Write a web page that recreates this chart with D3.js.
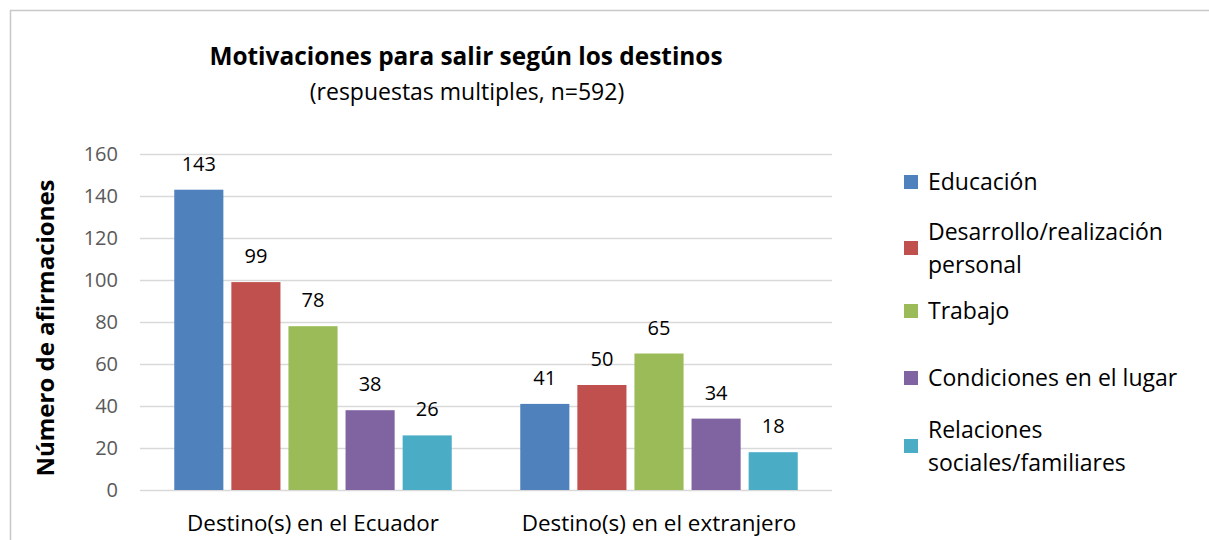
<!DOCTYPE html>
<html>
<head>
<meta charset="utf-8">
<script src="https://cdn.jsdelivr.net/npm/d3@7"></script>
<style>
  body { margin: 0; background: #fff; }
  svg { display: block; }
</style>
</head>
<body>
<div id="chart"></div>
<script>
/* Data */
const categories = ["Destino(s) en el Ecuador", "Destino(s) en el extranjero"];
const series = ["Educación", "Desarrollo/realización personal", "Trabajo", "Condiciones en el lugar", "Relaciones sociales/familiares"];
const legendLines = [["Educación"], ["Desarrollo/realización", "personal"], ["Trabajo"], ["Condiciones en el lugar"], ["Relaciones", "sociales/familiares"]];
const valuesEcuador = [143, 99, 78, 38, 26];
const valuesExtranjero = [41, 50, 65, 34, 18];
const yTicks = [0, 20, 40, 60, 80, 100, 120, 140, 160];
const colors = ["#4F81BD", "#C0504D", "#9BBB59", "#8064A2", "#4BACC6"];

const data = categories.map((c, i) => ({
    category: c,
    values: (i === 0 ? valuesEcuador : valuesExtranjero).map((v, j) => ({ key: series[j], value: v, idx: j }))
}));

const W = 1209, H = 540;
const plot = { left: 140, right: 832, top: 154, bottom: 490 };

const svg = d3.select("#chart").append("svg")
    .attr("width", W)
    .attr("height", H);

/* Outer frame (only top and left edges visible) */
svg.append("line").attr("x1", 10).attr("x2", W).attr("y1", 10.5).attr("y2", 10.5)
    .attr("stroke", "#c8c8c8").attr("stroke-width", 1.5);
svg.append("line").attr("x1", 10.5).attr("x2", 10.5).attr("y1", 10).attr("y2", H)
    .attr("stroke", "#c8c8c8").attr("stroke-width", 1.5);

/* Scales */
const x0 = d3.scaleBand().domain(categories).range([plot.left, plot.right]).padding(0);
const x1 = d3.scaleBand().domain(series).range([0, x0.bandwidth()])
    .paddingInner(0.14).paddingOuter(0.6);
const y = d3.scaleLinear().domain([0, 160]).range([plot.bottom, plot.top]);

/* Gridlines */
svg.append("g")
    .selectAll("line")
    .data(yTicks)
    .join("line")
        .attr("x1", plot.left).attr("x2", plot.right)
        .attr("y1", d => y(d) + 0.5).attr("y2", d => y(d) + 0.5)
        .attr("stroke", "#d9d9d9").attr("stroke-width", 1.5);

/* Y axis tick labels */
const yAxis = svg.append("g")
    .attr("transform", "translate(118,0)")
    .call(d3.axisLeft(y).tickValues(yTicks).tickSize(0).tickPadding(0));
yAxis.select(".domain").remove();
yAxis.selectAll("text")
    .attr("fill", "#595959")
    .style("font-family", "'Open Sans', sans-serif")
    .style("font-size", "20px");

/* Y axis title */
svg.append("text")
    .attr("transform", "translate(54," + ((plot.top + plot.bottom) / 2 + 6) + ") rotate(-90)")
    .attr("text-anchor", "middle")
    .style("font-family", "'Open Sans', sans-serif")
    .style("font-weight", "bold")
    .style("font-size", "24px")
    .attr("fill", "#000")
    .text("Número de afirmaciones");

/* Bars */
const groups = svg.append("g")
    .selectAll("g")
    .data(data)
    .join("g")
        .attr("transform", d => "translate(" + x0(d.category) + ",0)");

groups.selectAll("rect")
    .data(d => d.values)
    .join("rect")
        .attr("x", d => x1(d.key))
        .attr("y", d => y(d.value))
        .attr("width", x1.bandwidth())
        .attr("height", d => y(0) - y(d.value))
        .attr("fill", d => colors[d.idx]);

/* Value labels */
groups.selectAll("text")
    .data(d => d.values)
    .join("text")
        .attr("x", d => x1(d.key) + x1.bandwidth() / 2)
        .attr("y", d => y(d.value) - 19)
        .attr("text-anchor", "middle")
        .style("font-family", "'Open Sans', sans-serif")
        .style("font-size", "20px")
        .attr("fill", "#000")
        .text(d => d.value);

/* X axis labels */
const xAxis = svg.append("g")
    .attr("transform", "translate(0," + plot.bottom + ")")
    .call(d3.axisBottom(x0).tickSize(0).tickPadding(25));
xAxis.select(".domain").remove();
xAxis.selectAll("text")
    .attr("fill", "#000")
    .style("font-family", "'Open Sans', sans-serif")
    .style("font-size", "22.4px");

/* Title */
svg.append("text")
    .attr("x", 466).attr("y", 65)
    .attr("text-anchor", "middle")
    .style("font-family", "'Open Sans', sans-serif")
    .style("font-weight", "bold")
    .style("font-size", "24.4px")
    .text("Motivaciones para salir según los destinos");
svg.append("text")
    .attr("x", 467).attr("y", 100)
    .attr("text-anchor", "middle")
    .style("font-family", "'Open Sans', sans-serif")
    .style("font-size", "23px")
    .text("(respuestas multiples, n=592)");

/* Legend */
const legendY = [182, 248, 311, 378, 446];
const legend = svg.append("g")
    .selectAll("g")
    .data(series)
    .join("g")
        .attr("transform", (d, i) => "translate(904," + legendY[i] + ")");
legend.append("rect")
    .attr("x", 0).attr("y", -7)
    .attr("width", 14).attr("height", 14)
    .attr("fill", (d, i) => colors[i]);
legend.append("text")
    .style("font-family", "'Open Sans', sans-serif")
    .style("font-size", "23px")
    .attr("fill", "#000")
    .each(function(d, i) {
        const lines = legendLines[i];
        const t = d3.select(this);
        lines.forEach((ln, k) => {
            t.append("tspan")
                .attr("x", 24)
                .attr("y", (k - (lines.length - 1) / 2) * 33 + 8)
                .text(ln);
        });
    });
</script>
</body>
</html>
